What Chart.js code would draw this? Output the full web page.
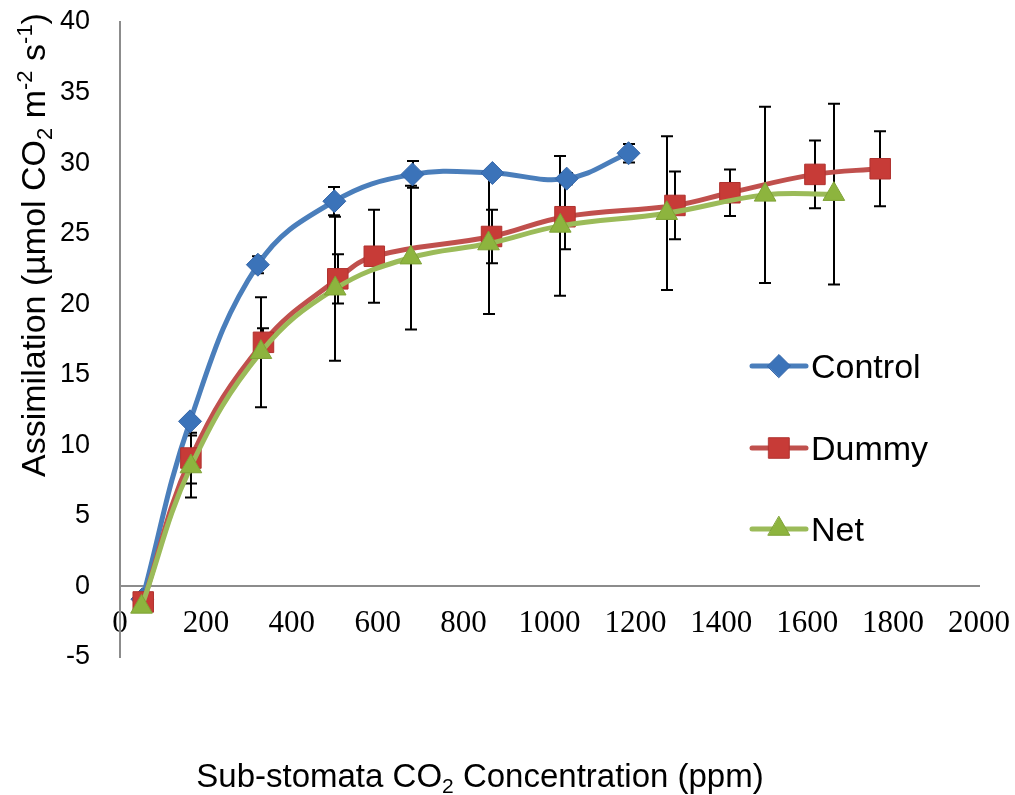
<!DOCTYPE html>
<html>
<head>
<meta charset="utf-8">
<script src="https://cdn.jsdelivr.net/npm/chart.js@4.4.0/dist/chart.umd.min.js"></script>
<style>
html,body{margin:0;padding:0;background:#ffffff;}
#wrap{width:1015px;height:795px;position:relative;}
canvas{display:block;}
</style>
</head>
<body>
<div id="wrap"><canvas id="c" width="1015" height="795"></canvas></div>
<script>
// ---------------- data ----------------
const controlX   = [52, 163, 321, 499, 681, 867, 1040, 1184];
const controlY   = [-0.9, 11.7, 22.8, 27.3, 29.2, 29.3, 28.9, 30.7];
const controlErr = [0.3, 0.3, 0.6, 1.0, 0.95, 0.3, 0.4, 0.65];

const dummyX   = [54, 165, 334, 507, 592, 865, 1036, 1292, 1420, 1618, 1770];
const dummyY   = [-1.1, 9.1, 17.3, 21.8, 23.4, 24.8, 26.2, 27.0, 27.9, 29.2, 29.6];
const dummyErr = [0.3, 1.8, 1.0, 1.75, 3.3, 1.9, 2.3, 2.4, 1.65, 2.4, 2.65];

const netX   = [50, 165, 328, 501, 677, 858, 1025, 1273, 1502, 1662];
const netY   = [-1.45, 8.5, 16.6, 21.1, 23.3, 24.3, 25.55, 26.45, 27.75, 27.8];
const netErr = [0.3, 2.2, 3.9, 5.1, 5.1, 5.0, 4.95, 5.45, 6.25, 6.4];

const seriesLabels = ['Control', 'Dummy', 'Net'];
const xMin = 0, xMax = 2000, xStep = 200;
const yMin = -5, yMax = 40, yStep = 5;

const xTitleParts = [['Sub-stomata CO', 'n'], ['2', 'sub'], [' Concentration (ppm)', 'n']];
const yTitleParts = [['Assimilation (\u00b5mol CO', 'n'], ['2', 'sub'], [' m', 'n'], ['-2', 'sup'], [' s', 'n'], ['-1', 'sup'], [')', 'n']];

// ---------------- styling ----------------
const SANS = "'Liberation Sans', Arial, sans-serif";
const SERIF = "'Liberation Serif', 'Times New Roman', serif";

function pts(xs, ys) { return xs.map((x, i) => ({ x: x, y: ys[i] })); }

const datasets = [
  {
    label: seriesLabels[0], data: pts(controlX, controlY), errors: controlErr,
    borderColor: '#4A7EBB', pointBackgroundColor: '#3B73B9', pointBorderColor: '#3566A8',
    pointStyle: 'rectRot', pointRadius: 11.5, pointHoverRadius: 11.5, order: 2
  },
  {
    label: seriesLabels[1], data: pts(dummyX, dummyY), errors: dummyErr,
    borderColor: '#C0504D', pointBackgroundColor: '#C73B37', pointBorderColor: '#B0322F',
    pointStyle: 'rect', pointRadius: 14.5, pointHoverRadius: 14.5, order: 1
  },
  {
    label: seriesLabels[2], data: pts(netX, netY), errors: netErr,
    borderColor: '#9BBB59', pointBackgroundColor: '#8DB43E', pointBorderColor: '#7FA236',
    pointStyle: 'triangle', pointRadius: 12.5, pointHoverRadius: 12.5, order: 0
  }
];
datasets.forEach(d => {
  d.borderWidth = 5;
  d.pointBorderWidth = 1;
  d.tension = 0.4;
  d.fill = false;
  d.backgroundColor = d.pointBackgroundColor;
});

// error bars drawn through the y scale
const errorBarPlugin = {
  id: 'errorBars',
  beforeDatasetsDraw(chart) {
    const ctx = chart.ctx;
    const ys = chart.scales.y;
    ctx.save();
    ctx.strokeStyle = '#000000';
    ctx.lineWidth = 2;
    chart.data.datasets.forEach((ds, i) => {
      const meta = chart.getDatasetMeta(i);
      ds.data.forEach((p, j) => {
        const e = ds.errors[j];
        if (!e) return;
        const el = meta.data[j];
        const x = Math.round(el.x);
        const yt = ys.getPixelForValue(p.y + e);
        const yb = ys.getPixelForValue(p.y - e);
        const cw = 6;
        ctx.beginPath();
        ctx.moveTo(x, yt); ctx.lineTo(x, yb);
        ctx.moveTo(x - cw, yt); ctx.lineTo(x + cw, yt);
        ctx.moveTo(x - cw, yb); ctx.lineTo(x + cw, yb);
        ctx.stroke();
      });
    });
    ctx.restore();
  }
};

function drawRich(ctx, parts, cx, cy, size, rot) {
  ctx.save();
  ctx.translate(cx, cy);
  ctx.rotate(rot);
  ctx.fillStyle = '#000000';
  ctx.textBaseline = 'alphabetic';
  ctx.textAlign = 'left';
  const small = Math.round(size * 0.65);
  let total = 0;
  const widths = parts.map(([t, m]) => {
    ctx.font = (m === 'n' ? size : small) + 'px ' + SANS;
    const w = ctx.measureText(t).width;
    total += w;
    return w;
  });
  let x = -total / 2;
  const base = size * 0.36;
  parts.forEach(([t, m], i) => {
    ctx.font = (m === 'n' ? size : small) + 'px ' + SANS;
    let y = base;
    if (m === 'sub') y = base + size * 0.2;
    if (m === 'sup') y = base - size * 0.4;
    ctx.fillText(t, x, y);
    x += widths[i];
  });
  ctx.restore();
}

const titlesPlugin = {
  id: 'richTitles',
  afterDraw(chart) {
    const ctx = chart.ctx;
    drawRich(ctx, xTitleParts, 480, 775, 33, 0);
    drawRich(ctx, yTitleParts, 33, 245, 34, -Math.PI / 2);
  }
};

function drawMarker(ctx, style, r, x, y) {
  if (Chart.helpers && Chart.helpers.drawPoint) {
    Chart.helpers.drawPoint(ctx, { pointStyle: style, radius: r, rotation: 0, borderWidth: 1 }, x, y);
    return;
  }
  ctx.beginPath();
  if (style === 'rectRot') {
    ctx.moveTo(x, y - r); ctx.lineTo(x + r, y); ctx.lineTo(x, y + r); ctx.lineTo(x - r, y);
  } else if (style === 'rect') {
    const s = r * Math.SQRT1_2;
    ctx.rect(x - s, y - s, 2 * s, 2 * s);
  } else {
    const a = 2 * Math.PI / 3;
    ctx.moveTo(x, y - r);
    ctx.lineTo(x + Math.sin(a) * r, y - Math.cos(a) * r);
    ctx.lineTo(x + Math.sin(2 * a) * r, y - Math.cos(2 * a) * r);
  }
  ctx.closePath();
  ctx.fill();
  ctx.stroke();
}

const legendPlugin = {
  id: 'lineLegend',
  afterDraw(chart) {
    const ctx = chart.ctx;
    const rowsY = [366, 448, 529];
    const x1 = 752, x2 = 806, mx = 779, tx = 811, size = 34;
    chart.data.datasets.forEach((ds, i) => {
      const y = rowsY[i];
      ctx.save();
      ctx.strokeStyle = ds.borderColor;
      ctx.lineWidth = 5;
      ctx.lineCap = 'round';
      ctx.beginPath(); ctx.moveTo(x1, y); ctx.lineTo(x2, y); ctx.stroke();
      ctx.fillStyle = ds.pointBackgroundColor;
      ctx.strokeStyle = ds.pointBorderColor;
      ctx.lineWidth = 1;
      drawMarker(ctx, ds.pointStyle, ds.pointRadius, mx, y);
      ctx.fillStyle = '#000000';
      ctx.font = size + 'px ' + SANS;
      ctx.textBaseline = 'alphabetic';
      ctx.textAlign = 'left';
      ctx.fillText(ds.label, tx, y + size * 0.36);
      ctx.restore();
    });
  }
};

new Chart(document.getElementById('c'), {
  type: 'line',
  data: { datasets: datasets },
  plugins: [errorBarPlugin, titlesPlugin, legendPlugin],
  options: {
    responsive: false,
    animation: false,
    layout: { padding: { left: 58, right: 36, top: 22, bottom: 138 } },
    plugins: { legend: { display: false }, tooltip: { enabled: false } },
    scales: {
      x: {
        type: 'linear', min: xMin, max: xMax,
        position: { y: 0 },
        ticks: {
          stepSize: xStep, padding: 1, color: '#000000', font: { family: SERIF, size: 31 },
          maxRotation: 0, autoSkip: false, callback: v => String(v)
        },
        grid: { display: true, drawOnChartArea: false, drawTicks: true, tickLength: 18, color: 'rgba(0,0,0,0)' },
        border: { display: true, color: '#8C8C8C', width: 2 }
      },
      y: {
        type: 'linear', min: yMin, max: yMax,
        ticks: { stepSize: yStep, padding: 2, color: '#000000', font: { family: SANS, size: 27 } },
        grid: { display: true, drawOnChartArea: false, drawTicks: true, tickLength: 28, color: 'rgba(0,0,0,0)' },
        border: { display: true, color: '#8C8C8C', width: 2 }
      }
    }
  }
});
</script>
</body>
</html>
